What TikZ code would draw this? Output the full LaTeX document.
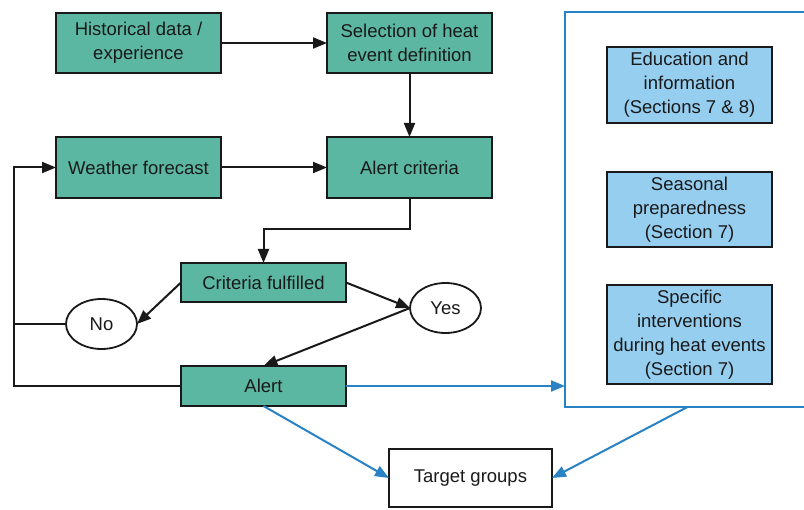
\documentclass[tikz,border=0pt]{standalone}
\usepackage{fontspec}
\setmainfont{Liberation Sans}
\usetikzlibrary{arrows.meta,shapes.geometric}
\definecolor{teal1}{RGB}{92,183,162}
\definecolor{lblue}{RGB}{150,206,240}
\definecolor{bline}{RGB}{40,130,195}
\definecolor{txt}{RGB}{25,25,25}
\tikzset{
  base/.style={draw=black!90, line width=2.2pt, inner sep=0pt, outer sep=0pt, align=center, text=txt, font=\fontsize{18.5}{24}\selectfont},
  tealbox/.style={base, fill=teal1, minimum width=165pt},
  bluebox/.style={base, fill=lblue, minimum width=165pt},
  whitebox/.style={base, fill=white},
  oval/.style={base, ellipse, fill=white, minimum width=71pt, minimum height=50pt, line width=1.8pt},
  arr/.style={line width=2pt, draw=black!90, -{Triangle[length=14pt,width=11pt]}},
  plain/.style={line width=2pt, draw=black!90},
  barr/.style={line width=2pt, draw=bline, -{Triangle[length=14pt,width=11pt]}},
}
\begin{document}
\begin{tikzpicture}[x=1pt,y=-1pt]
\useasboundingbox (0,0) rectangle (804,510);
\clip (0,0) rectangle (804,510);
\fill[white] (0,0) rectangle (804,510);

\node[tealbox, minimum height=60pt] (hist) at (138.5,43) {Historical data /\\experience};
\node[tealbox, minimum height=60pt] (sel) at (409.5,43) {Selection of heat\\event definition};
\node[tealbox, minimum height=61pt] (wf) at (138.5,167.5) {Weather forecast};
\node[tealbox, minimum height=61pt] (ac) at (409.5,167.5) {Alert criteria};
\node[tealbox, minimum height=39pt] (cf) at (263.5,282.5) {Criteria fulfilled};
\node[tealbox, minimum height=40pt] (alert) at (263.5,386) {Alert};
\node[oval] (no) at (101.5,324) {No};
\node[oval] (yes) at (445.5,308) {Yes};
\node[whitebox, minimum width=163pt, minimum height=58pt] (target) at (470.5,478) {Target groups};

\node[draw=bline, line width=2pt, minimum width=245pt, minimum height=395pt, inner sep=0pt, outer sep=0pt] (big) at (687.5,209.5) {};
\node[bluebox, minimum height=76pt] (edu) at (689.5,85) {Education and\\information\\(Sections 7 \& 8)};
\node[bluebox, minimum height=75pt] (sea) at (689.5,209.5) {Seasonal\\preparedness\\(Section 7)};
\node[bluebox, minimum height=99pt] (spec) at (689.5,334.5) {Specific\\interventions\\during heat events\\(Section 7)};

\coordinate (lft) at (14,0);

\draw[arr] (hist.east) -- (sel.west);
\draw[arr] (sel.south) -- (ac.north);
\draw[arr] (wf.east) -- (ac.west);
\draw[arr] (ac.south) -- ++(0,31) -| (cf.north);
\draw[arr] (cf.west) -- (no.east);
\draw[arr] (cf.east) -- (yes.west);
\draw[arr] (yes.west) -- (alert.north);
\draw[plain] (no.west) -- (no.west -| lft);
\draw[arr] (alert.west) -- (alert.west -| lft) -- (wf.west -| lft) -- (wf.west);

\draw[barr] (alert.east) -- (alert.east -| big.west);
\draw[barr] (alert.south) -- (target.west);
\draw[barr] (big.south) -- (target.east);
\end{tikzpicture}
\end{document}
